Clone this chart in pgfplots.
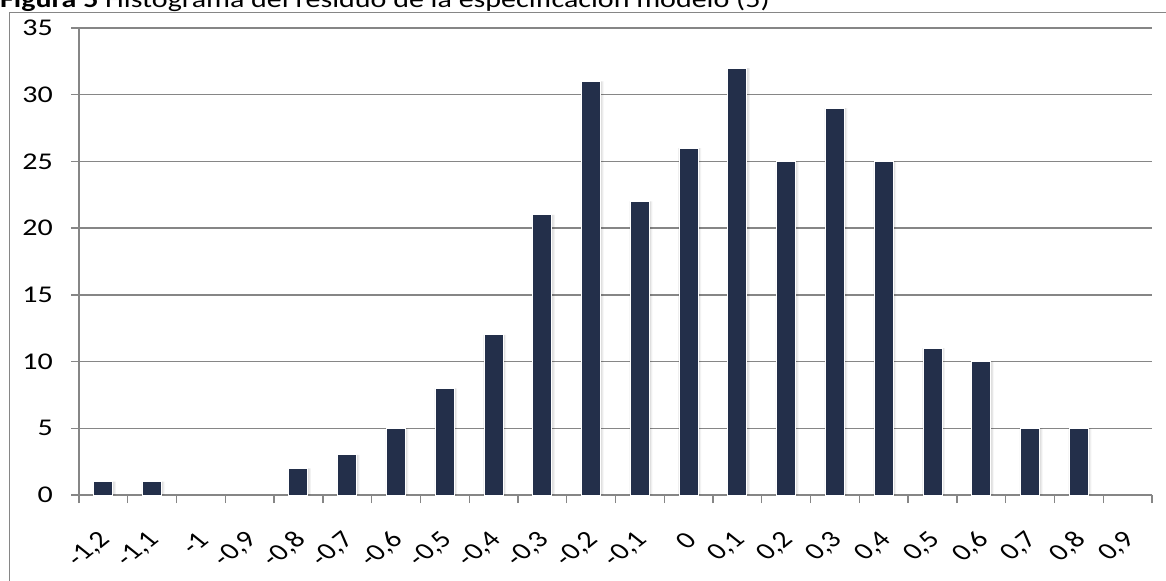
\documentclass[border=0pt]{standalone}
\usepackage{pgfplots}
\pgfplotsset{compat=1.18}
\usepackage{fontspec}
\setmainfont{Carlito}[FakeStretch=1.25]
\newfontfamily\labelfont{Carlito}
\definecolor{barblue}{RGB}{35,47,74}
\definecolor{gridgray}{RGB}{134,134,134}

\begin{document}
\begin{tikzpicture}
\useasboundingbox (0,0) rectangle (1166bp,581bp);
% chart frame
\draw[gridgray, line width=1.3bp] (9.5bp,-5bp) -- (9.5bp,568.5bp) -- (1175bp,568.5bp);
% caption
\node[anchor=base west, inner sep=0pt, font=\fontsize{24bp}{28bp}\selectfont]
  at (0bp,573.7bp) {\textbf{Figura 5} Histograma del residuo de la especificación modelo (5)};
\begin{axis}[
  at={(79bp,86bp)}, anchor=south west, scale only axis,
  width=1073bp, height=467bp,
  xmin=-0.5, xmax=21.5, ymin=0, ymax=35,
  axis x line*=bottom, axis y line*=left,
  axis line style={gridgray, line width=1.3bp, -},
  ytick={0,5,...,35},
  ymajorgrids, grid style={gridgray, line width=1.3bp},
  tick align=outside,
  major tick length=8bp,
  minor tick length=8bp,
  major tick style={gridgray, line width=1.3bp},
  major x tick style={draw=none},
  minor x tick style={gridgray, line width=1.3bp},
  xtick={0,...,21},
  minor xtick={-0.5,0.5,...,21.5},
  xticklabels={{-1,2},{-1,1},{-1},{-0,9},{-0,8},{-0,7},{-0,6},{-0,5},{-0,4},{-0,3},{-0,2},{-0,1},{0},{0,1},{0,2},{0,3},{0,4},{0,5},{0,6},{0,7},{0,8},{0,9}},
  /pgf/number format/assume math mode=true,
  yticklabel style={font=\fontsize{24bp}{28bp}\selectfont, anchor=east, inner sep=0pt, xshift=-18bp},
  xticklabel style={font=\fontsize{24bp}{28bp}\labelfont, anchor=east, inner sep=0pt, xshift=3bp, yshift=-33bp, cm={0.884,0.707,-0.884,0.707,(0,0)}},
  clip=false,
]
% soft shadow behind the bars
\addplot[ybar, bar width=0.47, bar shift=0.02, fill=black, opacity=0.05, draw=none]
  coordinates {(0,1) (1,1) (4,2) (5,3) (6,5) (7,8) (8,12) (9,21) (10,31) (11,22) (12,26)
               (13,32) (14,25) (15,29) (16,25) (17,11) (18,10) (19,5) (20,5)};
\addplot[ybar, bar width=0.43, bar shift=0.015, fill=black, opacity=0.08, draw=none]
  coordinates {(0,1) (1,1) (4,2) (5,3) (6,5) (7,8) (8,12) (9,21) (10,31) (11,22) (12,26)
               (13,32) (14,25) (15,29) (16,25) (17,11) (18,10) (19,5) (20,5)};
% residual frequencies
\addplot[ybar, bar width=0.39, bar shift=0, fill=barblue, draw=white, line width=1bp]
  coordinates {(0,1) (1,1) (4,2) (5,3) (6,5) (7,8) (8,12) (9,21) (10,31) (11,22) (12,26)
               (13,32) (14,25) (15,29) (16,25) (17,11) (18,10) (19,5) (20,5)};
\end{axis}
\end{tikzpicture}
\end{document}
